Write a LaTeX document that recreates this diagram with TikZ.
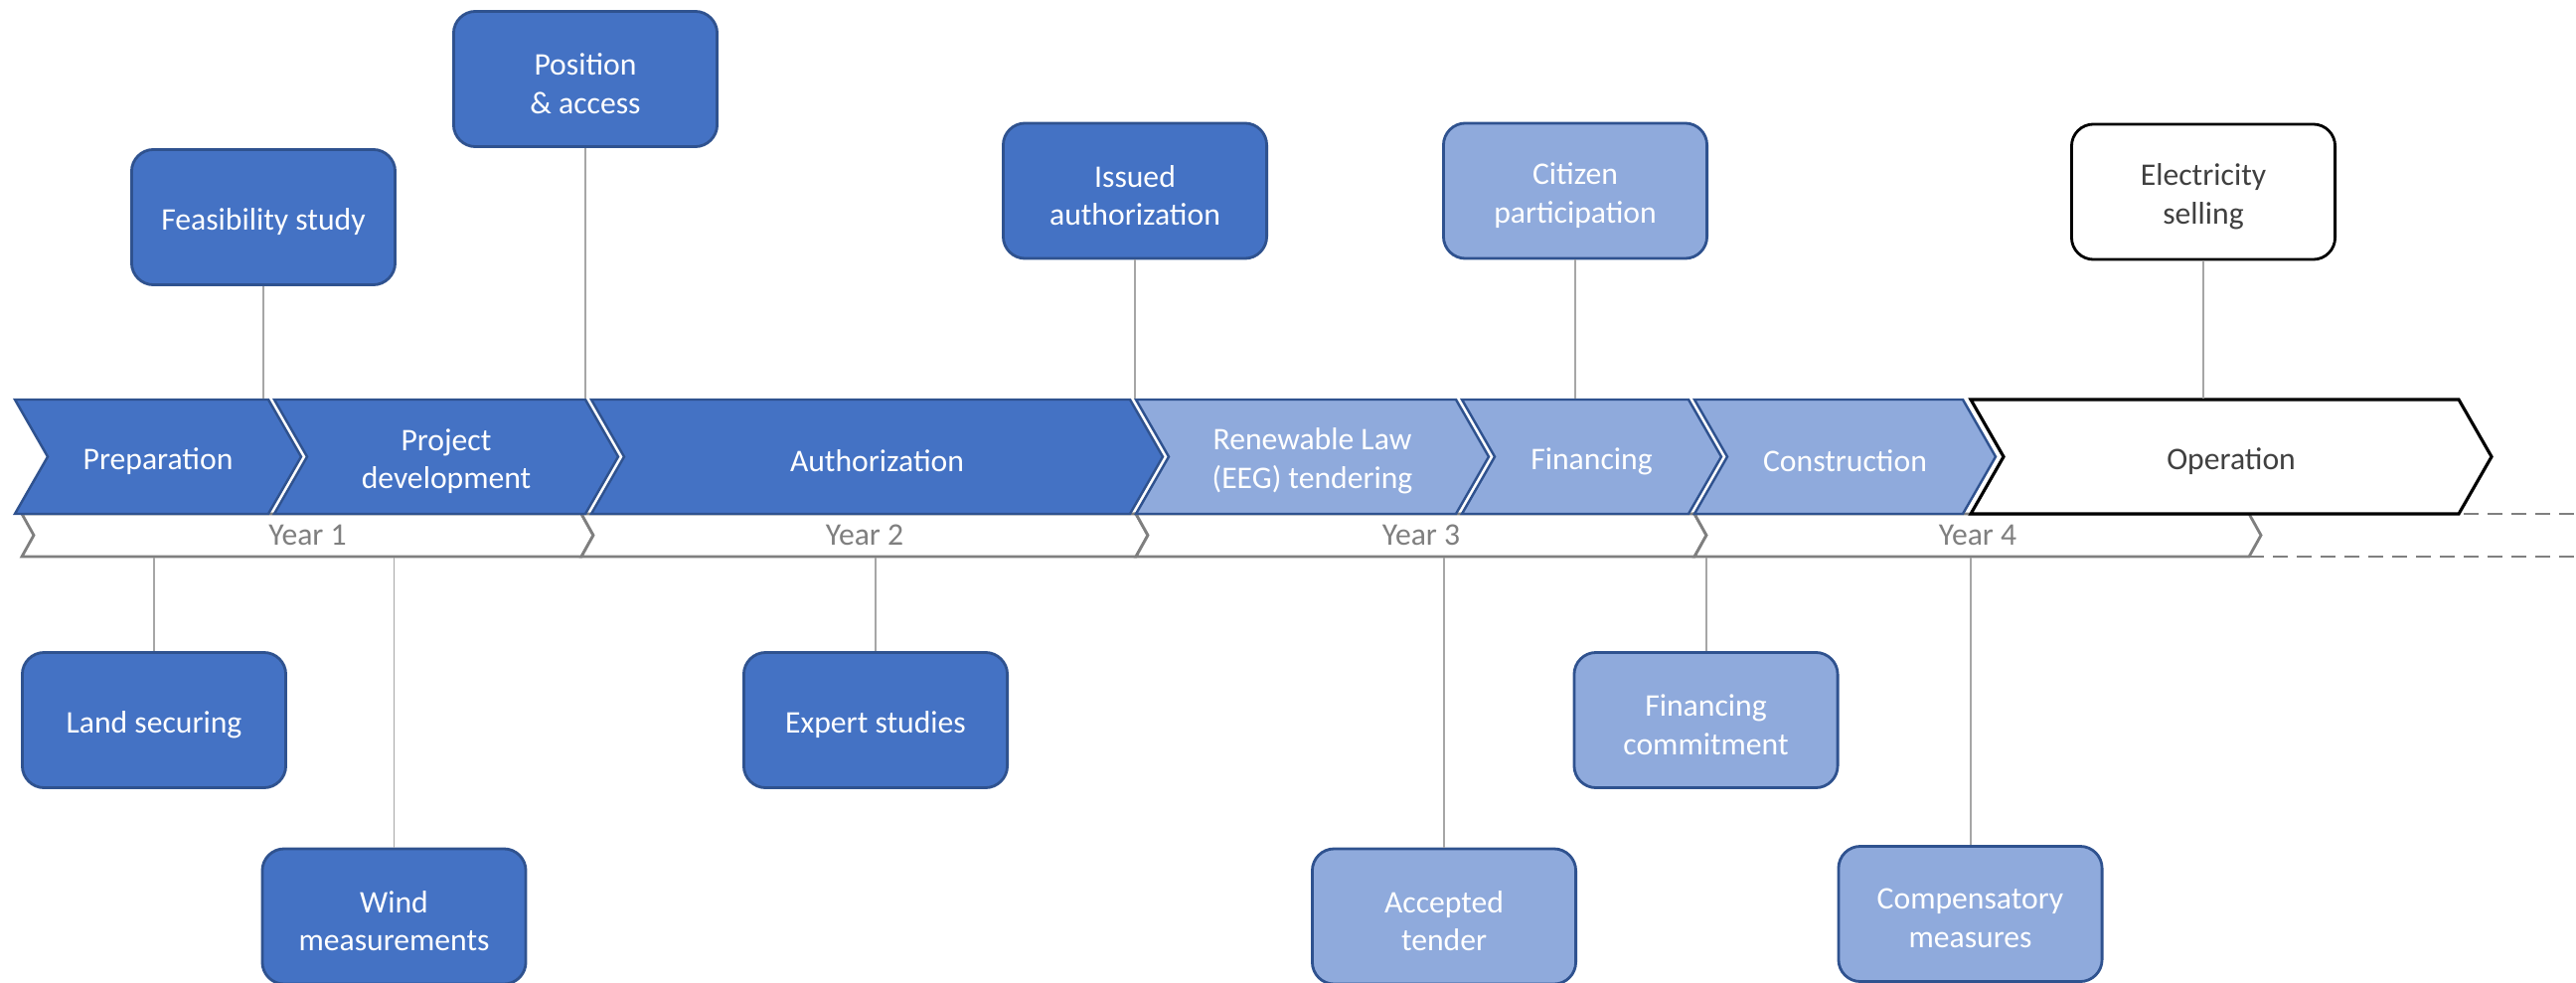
\documentclass[tikz,border=0pt]{standalone}
\usepackage{fontspec}
\setmainfont{Carlito}

\definecolor{darkblue}{HTML}{4472C4}
\definecolor{lightblue}{HTML}{8FAADC}
\definecolor{bordblue}{HTML}{2F528F}
\definecolor{conngray}{HTML}{A6A6A6}
\definecolor{yeargray}{HTML}{7F7F7F}
\definecolor{textgray}{HTML}{404040}

\tikzset{
  lbl/.style={font=\fontsize{9}{11}\selectfont, align=center, inner sep=0pt},
  % captions sit slightly below the geometric centre of their shape
  captext/.style={lbl, text=white, yshift=-0.045cm},
  box/.style={rounded corners=0.22cm, minimum width=2.65cm, minimum height=1.36cm,
              line width=0.8pt, draw=bordblue, inner sep=0pt},
  darkbox/.style={box, fill=darkblue},
  lightbox/.style={box, fill=lightblue},
  plainbox/.style={box, fill=white, draw=black},
  conn/.style={draw=conngray, line width=0.55pt},
  darkchev/.style={fill=darkblue, draw=bordblue, line width=0.7pt, line join=miter},
  lightchev/.style={fill=lightblue, draw=bordblue, line width=0.7pt, line join=miter},
  plainchev/.style={fill=white, draw=black, line width=0.9pt, line join=miter},
  phasearea/.style={inner sep=0pt, minimum height=1.15cm, minimum width=1cm},
  yearshape/.style={fill=white, draw=yeargray, line width=0.8pt, line join=miter},
  yearlabel/.style={lbl, minimum height=0.43cm, text=yeargray},
}

% phase chevron: name, left x, right x (top corner), shape style, caption colour, text
\newcommand{\phasechev}[6]{%
  \path[#4] (#2,402) -- (#3,402) -- (#3+33,459.5) -- (#3,517) -- (#2,517)
        -- (#2+33,459.5) -- cycle;
  \node[phasearea, label={[captext,text=#5]center:{#6}}] (#1) at ({(#2+#3+33)/2},459.5) {};
}
% year chevron: name, left x, right x, text
\newcommand{\yearchev}[4]{%
  \path[yearshape] (#2,517) -- (#3,517) -- (#3+12,538.5) -- (#3,560) -- (#2,560)
        -- (#2+12,538.5) -- cycle;
  \node[yearlabel] (#1) at ({(#2+#3+12)/2},538.5) {#4};
}
% milestone box: style, name, position, caption colour, text
\newcommand{\milestone}[5]{%
  \node[#1, label={[captext,text=#4]center:{#5}}] (#2) at (#3) {};
}

\begin{document}
\begin{tikzpicture}[x=0.01cm, y=-0.01cm]
\useasboundingbox (0,0) rectangle (2592,988);

% years bar and its open-ended continuation
\draw[draw=yeargray, line width=0.8pt, dash pattern=on 0.15cm off 0.09cm]
  (2263,517) -- (2592,517) (2263,560) -- (2592,560);
\yearchev{y1}{22}{585}{Year 1}
\yearchev{y2}{585}{1143}{Year 2}
\yearchev{y3}{1143}{1705}{Year 3}
\yearchev{y4}{1705}{2263}{Year 4}

% project phases
\phasechev{prep}{15}{270}{darkchev}{white}{Preparation}
\phasechev{projdev}{276}{589}{darkchev}{white}{Project\\development}
\phasechev{auth}{595}{1137}{darkchev}{white}{Authorization}
\phasechev{eeg}{1143}{1465}{lightchev}{white}{Renewable Law\\(EEG) tendering}
\phasechev{fin}{1471}{1699}{lightchev}{white}{Financing}
\phasechev{constr}{1705}{1975}{lightchev}{white}{Construction}
\phasechev{oper}{1983}{2474}{plainchev}{textgray}{Operation}

% milestones above the phases
\milestone{darkbox}{feas}{265,218.5}{white}{Feasibility study}
\milestone{darkbox}{pos}{589,79.5}{white}{Position\\\& access}
\milestone{darkbox}{issued}{1142,192}{white}{Issued\\authorization}
\milestone{lightbox}{citizen}{1585,192}{white}{Citizen\\participation}
\milestone{plainbox}{elec}{2217,193}{textgray}{Electricity\\selling}

% milestones below the years
\milestone{darkbox}{land}{155,724.5}{white}{Land securing}
\milestone{darkbox}{wind}{396.5,922}{white}{Wind\\measurements}
\milestone{darkbox}{expert}{881,724.5}{white}{Expert studies}
\milestone{lightbox}{accepted}{1453,922}{white}{Accepted\\tender}
\milestone{lightbox}{fincom}{1716.5,724.5}{white}{Financing\\commitment}
\milestone{lightbox}{compens}{1982.5,919.5}{white}{Compensatory\\measures}

% connectors
\draw[conn] (feas)    -- (feas    |- prep.north);
\draw[conn] (pos)     -- (pos     |- projdev.north);
\draw[conn] (issued)  -- (issued  |- auth.north);
\draw[conn] (citizen) -- (citizen |- fin.north);
\draw[conn] (elec)    -- (elec    |- oper.north);
\draw[conn] (land)     -- (land     |- y1.south);
\draw[conn] (wind)     -- (wind     |- y1.south);
\draw[conn] (expert)   -- (expert   |- y2.south);
\draw[conn] (accepted) -- (accepted |- y3.south);
\draw[conn] (fincom)   -- (fincom   |- y4.south);
\draw[conn] (compens)  -- (compens  |- y4.south);
\end{tikzpicture}
\end{document}
